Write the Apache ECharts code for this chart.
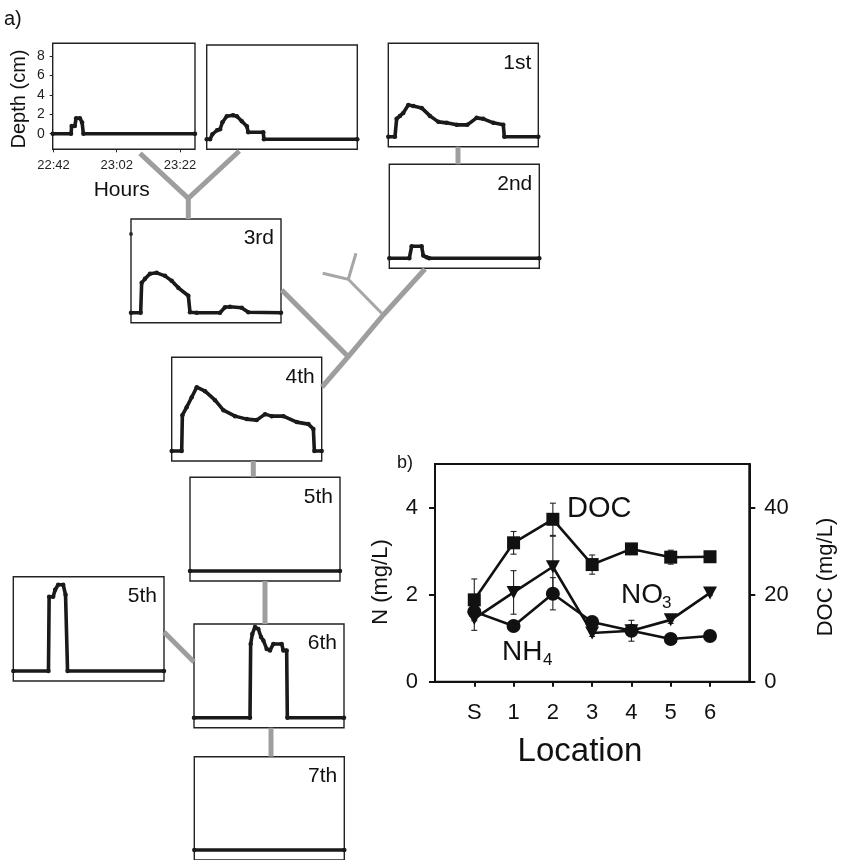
<!DOCTYPE html>
<html><head><meta charset="utf-8">
<script src="https://cdn.jsdelivr.net/npm/echarts@6/dist/echarts.min.js"></script>
<style>html,body{margin:0;padding:0;background:#fff}#c{width:841px;height:860px}</style>
</head><body><div id="c"></div>
<script>
// ---------- DATA ----------
// panel a) : depth (cm) vs minutes since ~22:41.75
const timeTickValues = [0.25, 20.25, 40.25];
const timeTickLabels = ['22:42', '23:02', '23:22'];
const depthTicks = [0, 2, 4, 6, 8];

const tUpA = [0, 5.8, 6.0, 7.0, 7.4, 8.6, 9.3, 9.7, 45];
const dUpA = [0, 0, 0.8, 0.8, 1.6, 1.6, 1.15, 0, 0];

const tUpB = [0, 1.0, 1.7, 3.1, 4.0, 4.7, 6.0, 7.9, 9.0, 10.5, 12.0, 12.4, 16.9, 17.1, 45];
const dUpB = [0, 0, 0.5, 0.9, 1.0, 1.7, 2.3, 2.4, 2.3, 1.8, 1.3, 0.7, 0.7, 0, 0];

const t1st = [0, 2.0, 2.5, 3.5, 4.5, 6.0, 7.5, 10.0, 12.5, 15.0, 17.5, 20.5, 23.7, 26.5, 28.5, 31.5, 34.5, 34.8, 45];
const d1st = [0, 0, 1.8, 2.1, 2.4, 3.2, 3.1, 2.9, 2.1, 1.5, 1.4, 1.2, 1.2, 1.9, 1.8, 1.4, 1.2, 0, 0];

const t2nd = [0, 6.0, 6.7, 9.7, 10.2, 11.2, 12.0, 45];
const d2nd = [0, 0, 1.2, 1.2, 0.27, 0.1, 0, 0];

const t3rd = [0, 2.9, 3.2, 4.2, 5.7, 7.7, 10.2, 12.2, 14.2, 17.2, 17.7, 19.7, 26.7, 28.2, 29.7, 33.2, 35.2, 45];
const d3rd = [0, 0, 3.0, 3.4, 3.9, 4.0, 3.7, 3.2, 2.5, 1.7, 0.05, 0, 0, 0.55, 0.6, 0.5, 0.05, 0];
const outlier3rd = [[0, 7.9]];

const t4th = [0, 3.0, 3.2, 4.5, 6.0, 7.5, 10.0, 13.0, 15.5, 19.0, 22.5, 25.5, 28.0, 30.0, 33.5, 37.5, 41.0, 42.5, 42.8, 45];
const d4th = [0, 0, 3.6, 4.4, 5.4, 6.4, 6.0, 5.1, 4.1, 3.5, 3.2, 3.1, 3.7, 3.5, 3.5, 2.9, 2.7, 2.2, 0, 0];

const t5th = [0, 45];
const d5th = [0, 0];

const t5thSide = [0, 10.5, 10.7, 11.9, 12.5, 13.4, 14.9, 15.6, 16.2, 45];
const d5thSide = [0, 0, 7.4, 7.4, 8.1, 8.6, 8.6, 7.6, 0, 0];

const t6th = [0, 16.8, 17.0, 17.5, 18.3, 19.3, 20.1, 20.8, 21.8, 22.8, 23.8, 26.3, 26.8, 27.8, 28.0, 45];
const d6th = [0, 0, 7.4, 8.4, 9.1, 8.9, 8.1, 7.75, 6.9, 6.75, 7.4, 7.4, 6.75, 6.75, 0, 0];

const t7th = [0, 45];
const d7th = [0, 0];

const panelNames = ['', '', '1st', '2nd', '3rd', '4th', '5th', '5th', '6th', '7th'];
const panelT = [tUpA, tUpB, t1st, t2nd, t3rd, t4th, t5th, t5thSide, t6th, t7th];
const panelD = [dUpA, dUpB, d1st, d2nd, d3rd, d4th, d5th, d5thSide, d6th, d7th];

// panel b) : nutrients by location
const locations = ['S', '1', '2', '3', '4', '5', '6'];
const docVals = [18.8, 31.9, 37.3, 26.9, 30.5, 28.6, 28.7];
const docErr  = [4.8, 2.6, 3.7, 2.2, 0.4, 1.6, 0.3];
const no3Vals = [1.45, 2.05, 2.64, 1.12, 1.17, 1.42, 2.04];
const no3Err  = [0.27, 0.5, 0.7, 0.08, 0.24, 0.08, 0.05];
const nh4Vals = [1.61, 1.28, 2.02, 1.37, 1.17, 0.98, 1.05];
const nh4Err  = [0.1, 0.05, 0.37, 0.05, 0.05, 0.05, 0.05];
const nTicks = [0, 2, 4];
const docTicks = [0, 20, 40];

// ---------- LAYOUT ----------
const boxes = [
  [52.7, 43.3, 142.3, 106],
  [206.7, 45, 150.6, 104.3],
  [388.3, 43.3, 150, 103.4],
  [389.3, 164.3, 150, 104],
  [131, 219, 150, 103.7],
  [171.7, 357.3, 150, 103.7],
  [190, 477.3, 150, 103.7],
  [13.3, 576.7, 150.7, 104.3],
  [194, 624, 150, 103.7],
  [194.3, 756.7, 150, 103.7]
];
const bBox = [435, 464, 314.3, 217.7];
const FONT = 'Liberation Sans, Arial, Helvetica, sans-serif';
const INK = '#1a1a1a';

const grids = [], xAxes = [], yAxes = [], series = [], graphics = [];

boxes.forEach((b, i) => {
  grids.push({left: b[0], top: b[1], width: b[2], height: b[3], show: true,
    borderColor: '#222', borderWidth: 1.4, backgroundColor: 'transparent', containLabel: false});
  if (i === 0) {
    xAxes.push({type: 'value', gridIndex: i, min: 0, max: 45,
      axisLine: {show: false, onZero: false}, splitLine: {show: false},
      axisTick: {show: true, customValues: timeTickValues, length: 3, lineStyle: {color: '#222'}},
      axisLabel: {customValues: timeTickValues, margin: 10, fontSize: 13, color: '#222', fontFamily: FONT,
        formatter: v => { let k = 0, best = 1e9; timeTickValues.forEach((tv, j) => { if (Math.abs(tv - v) < best) { best = Math.abs(tv - v); k = j; } }); return timeTickLabels[k]; }}});
    yAxes.push({type: 'value', gridIndex: i, min: -1.6, max: 9.3,
      axisLine: {show: false, onZero: false}, splitLine: {show: false},
      axisTick: {show: true, customValues: depthTicks, length: 3, lineStyle: {color: '#222'}},
      axisLabel: {customValues: depthTicks, margin: 8, fontSize: 14, color: '#222', fontFamily: FONT}});
  } else {
    xAxes.push({type: 'value', gridIndex: i, min: 0, max: 45, show: false});
    yAxes.push({type: 'value', gridIndex: i, min: -1, max: 9.4, show: false});
  }
  series.push({type: 'line', xAxisIndex: i, yAxisIndex: i,
    data: panelT[i].map((t, k) => [t, panelD[i][k]]),
    symbol: 'circle', symbolSize: 4.5, showAllSymbol: true,
    lineStyle: {color: INK, width: 3.6}, itemStyle: {color: INK},
    animation: false, silent: true, z: 3});
  if (panelNames[i]) {
    graphics.push({type: 'text', x: b[0] + b[2] - 7, y: b[1] + 9, z: 10,
      style: {text: panelNames[i], fontSize: 21, fontFamily: FONT, fill: '#111', align: 'right', verticalAlign: 'top'}});
  }
});
// outlier point in 3rd panel
series.push({type: 'scatter', xAxisIndex: 4, yAxisIndex: 4, data: outlier3rd, symbol: 'circle', symbolSize: 4,
  itemStyle: {color: INK}, animation: false, silent: true});

// ---------- panel b ----------
grids.push({left: bBox[0], top: bBox[1], width: bBox[2], height: bBox[3], show: true,
  borderColor: '#111', borderWidth: 2, backgroundColor: 'transparent', containLabel: false});
const locIdx = locations.map((_, i) => i);
xAxes.push({type: 'value', gridIndex: 10, min: -1, max: 7,
  axisLine: {show: true, onZero: false, lineStyle: {color: '#111', width: 2}}, splitLine: {show: false},
  axisTick: {show: true, customValues: locIdx, length: 5, lineStyle: {color: '#111', width: 2}},
  axisLabel: {customValues: locIdx, margin: 20, fontSize: 22, color: '#111', fontFamily: FONT,
    formatter: v => locations[Math.round(v)] || ''}});
yAxes.push({type: 'value', gridIndex: 10, min: 0, max: 5, position: 'left',
  axisLine: {show: true, onZero: false, lineStyle: {color: '#111', width: 2}}, splitLine: {show: false},
  axisTick: {show: true, customValues: nTicks, length: 6, lineStyle: {color: '#111', width: 2}},
  axisLabel: {customValues: nTicks, margin: 17, fontSize: 22, color: '#111', fontFamily: FONT}});
yAxes.push({type: 'value', gridIndex: 10, min: 0, max: 50, position: 'right',
  axisLine: {show: true, onZero: false, lineStyle: {color: '#111', width: 2}}, splitLine: {show: false},
  axisTick: {show: true, customValues: docTicks, length: 6, lineStyle: {color: '#111', width: 2}},
  axisLabel: {customValues: docTicks, margin: 15, fontSize: 22, color: '#111', fontFamily: FONT}});

function errSeries(vals, errs, yIdx) {
  return {type: 'custom', xAxisIndex: 10, yAxisIndex: yIdx, silent: true, animation: false, z: 2,
    data: vals.map((v, i) => [i, v - errs[i], v + errs[i]]),
    renderItem: (params, api) => {
      const x = api.value(0);
      const lo = api.coord([x, api.value(1)]);
      const hi = api.coord([x, api.value(2)]);
      const w = 3, st = {stroke: '#222', lineWidth: 1.1};
      return {type: 'group', children: [
        {type: 'line', shape: {x1: lo[0], y1: lo[1], x2: hi[0], y2: hi[1]}, style: st},
        {type: 'line', shape: {x1: lo[0] - w, y1: lo[1], x2: lo[0] + w, y2: lo[1]}, style: st},
        {type: 'line', shape: {x1: hi[0] - w, y1: hi[1], x2: hi[0] + w, y2: hi[1]}, style: st}
      ]};
    }};
}
series.push(errSeries(docVals, docErr, 11));
series.push(errSeries(no3Vals, no3Err, 10));
series.push(errSeries(nh4Vals, nh4Err, 10));

const lineBase = {type: 'line', xAxisIndex: 10, animation: false, silent: true, z: 4,
  lineStyle: {color: '#111', width: 2.6}, itemStyle: {color: '#111'}};
series.push(Object.assign({}, lineBase, {yAxisIndex: 11, symbol: 'rect', symbolSize: 13,
  data: docVals.map((v, i) => [i, v])}));
series.push(Object.assign({}, lineBase, {yAxisIndex: 10, symbol: 'triangle', symbolRotate: 180, symbolSize: [14, 13],
  data: no3Vals.map((v, i) => [i, v])}));
series.push(Object.assign({}, lineBase, {yAxisIndex: 10, symbol: 'circle', symbolSize: 14,
  data: nh4Vals.map((v, i) => [i, v])}));

// ---------- decorations: stream network ----------
const treeMain = [
  [[140, 153.3], [188.3, 198.3], [239.3, 151]],
  [[188.3, 198.3], [188.3, 219]],
  [[458, 146.7], [458, 164.3]],
  [[425, 269], [383.3, 315], [348.3, 356.7], [322, 387]],
  [[281.7, 290], [348.3, 356.7]],
  [[253.3, 461], [253.3, 477.3]],
  [[265, 581], [265, 624]],
  [[164, 632], [194, 662]],
  [[271, 727.7], [271, 756.7]]
];
const treeThin = [
  [[381.7, 313.3], [348.3, 279.3], [322.7, 273.3]],
  [[348.3, 279.3], [356, 253.3]]
];
treeMain.forEach(p => graphics.push({type: 'polyline', shape: {points: p}, z: 0,
  style: {stroke: '#9e9e9e', lineWidth: 5, fill: null, lineJoin: 'miter'}}));
treeThin.forEach(p => graphics.push({type: 'polyline', shape: {points: p}, z: 0,
  style: {stroke: '#a6a6a6', lineWidth: 3, fill: null}}));

// ---------- text ----------
const txt = (text, x, y, size, opts) => graphics.push(Object.assign({type: 'text', x, y, z: 10,
  style: Object.assign({text, fontSize: size, fontFamily: FONT, fill: '#111', align: 'left', verticalAlign: 'middle'}, opts && opts.style || {})},
  opts && opts.el || {}));
txt('a)', 4, 19, 20);
txt('Depth (cm)', 19.7, 99, 20, {style: {align: 'center'}, el: {rotation: Math.PI / 2}});
txt('Hours', 121.7, 190, 21, {style: {align: 'center'}});
txt('b)', 397, 463, 18);
txt('N (mg/L)', 381, 582, 22, {style: {align: 'center'}, el: {rotation: Math.PI / 2}});
txt('DOC (mg/L)', 826, 577, 22, {style: {align: 'center'}, el: {rotation: Math.PI / 2}});
txt('Location', 580, 752, 33, {style: {align: 'center'}});
txt('DOC', 567, 509, 29);
txt('NO', 621, 595, 28);
txt('3', 662, 603, 17);
txt('NH', 502, 652, 28);
txt('4', 543, 660, 17);

const chart = echarts.init(document.getElementById('c'), null, {renderer: 'canvas'});
chart.setOption({
  animation: false,
  backgroundColor: '#fff',
  textStyle: {fontFamily: FONT},
  grid: grids, xAxis: xAxes, yAxis: yAxes, series: series, graphic: graphics
});
</script></body></html>
